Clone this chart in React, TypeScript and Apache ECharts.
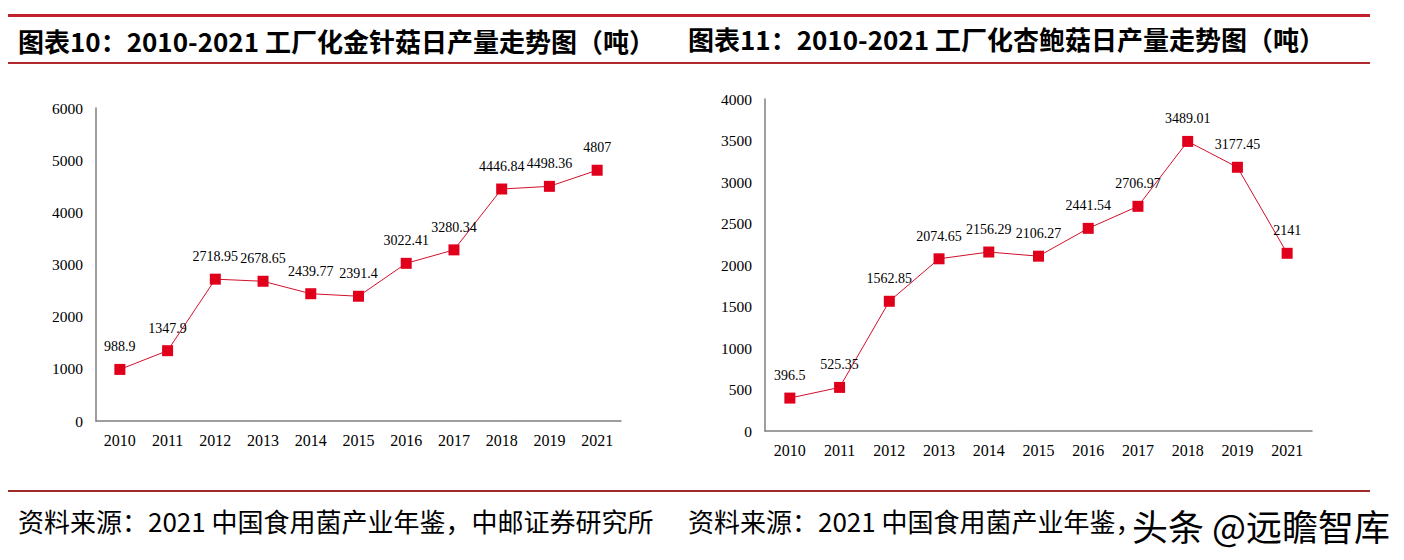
import React, { useEffect, useRef } from "react";
import * as echarts from "echarts";

const years = ["2010", "2011", "2012", "2013", "2014", "2015", "2016", "2017", "2018", "2019", "2021"];
const enokiValues = [988.9, 1347.9, 2718.95, 2678.65, 2439.77, 2391.4, 3022.41, 3280.34, 4446.84, 4498.36, 4807];
const kingOysterValues = [396.5, 525.35, 1562.85, 2074.65, 2156.29, 2106.27, 2441.54, 2706.97, 3489.01, 3177.45, 2141];
const leftTitle = "图表10：2010-2021 工厂化金针菇日产量走势图（吨）";
const rightTitle = "图表11：2010-2021 工厂化杏鲍菇日产量走势图（吨）";
const sourceText = "资料来源：2021 中国食用菌产业年鉴，中邮证券研究所";
const sourceTextCovered = "资料来源：2021 中国食用菌产业年鉴，";
const watermark = "头条 @远瞻智库";

const serif = "'Liberation Serif', 'Times New Roman', serif";
const cjk = "'Noto Sans CJK SC', sans-serif";

function makeXAxis(gridIndex: number) {
  return {
    type: "category",
    gridIndex,
    data: years,
    boundaryGap: true,
    axisLine: { show: true, lineStyle: { color: "#7f7f7f", width: 1.5 } },
    axisTick: { show: false },
    axisLabel: { color: "#000", fontFamily: serif, fontSize: 16, margin: 11 },
    splitLine: { show: false },
  };
}

function makeYAxis(gridIndex: number, max: number, interval: number) {
  return {
    type: "value",
    gridIndex,
    min: 0,
    max,
    interval,
    axisLine: { show: true, lineStyle: { color: "#7f7f7f", width: 1.5 } },
    axisTick: { show: false },
    axisLabel: {
      color: "#000",
      fontFamily: serif,
      fontSize: 15.5,
      margin: 13,
      formatter: (v: number) => String(v),
    },
    splitLine: { show: false },
  };
}

function makeSeries(idx: number, data: number[]) {
  return {
    type: "line",
    xAxisIndex: idx,
    yAxisIndex: idx,
    data,
    symbol: "rect",
    symbolSize: 11,
    itemStyle: { color: "#E0001B" },
    lineStyle: { color: "#D0102A", width: 1 },
    label: {
      show: true,
      position: "top",
      distance: 10,
      color: "#000",
      fontFamily: serif,
      fontSize: 14,
      formatter: (p: any) => String(p.value),
    },
  };
}

export default function App() {
  const ref = useRef<HTMLDivElement>(null);
  useEffect(() => {
    if (!ref.current) return;
    const chart = echarts.init(ref.current, null, { renderer: "svg" });
    chart.setOption({
      animation: false,
      backgroundColor: "#fff",
      grid: [
        { left: 96, top: 108, width: 525, height: 313 },
        { left: 765, top: 99, width: 547, height: 332 },
      ],
      xAxis: [makeXAxis(0), makeXAxis(1)],
      yAxis: [makeYAxis(0, 6000, 1000), makeYAxis(1, 4000, 500)],
      series: [makeSeries(0, enokiValues), makeSeries(1, kingOysterValues)],
      graphic: [
        { type: "rect", shape: { x: 8, y: 14, width: 1362, height: 3 }, style: { fill: "#C0212B" } },
        { type: "rect", shape: { x: 8, y: 62, width: 1362, height: 2 }, style: { fill: "#B0282E" } },
        { type: "rect", shape: { x: 8, y: 490, width: 1362, height: 2 }, style: { fill: "#9E2A2A" } },
        {
          type: "text",
          x: 18,
          y: 40,
          style: { text: leftTitle, fill: "#000", font: `bold 26px ${cjk}`, textVerticalAlign: "middle" },
        },
        {
          type: "text",
          x: 688,
          y: 38,
          style: { text: rightTitle, fill: "#000", font: `bold 26px ${cjk}`, textVerticalAlign: "middle" },
        },
        {
          type: "text",
          x: 18,
          y: 520,
          style: { text: sourceText, fill: "#000", font: `26px ${cjk}`, textVerticalAlign: "middle" },
        },
        {
          type: "text",
          x: 688,
          y: 520,
          style: { text: sourceTextCovered, fill: "#000", font: `26px ${cjk}`, textVerticalAlign: "middle" },
        },
        {
          type: "text",
          x: 1132,
          y: 525,
          z: 10,
          style: {
            text: watermark,
            fill: "#000",
            stroke: "#fff",
            lineWidth: 2,
            font: `36px ${cjk}`,
            textVerticalAlign: "middle",
          },
        },
      ],
    });
    return () => chart.dispose();
  }, []);
  return (
    <div
      ref={ref}
      style={{ position: "fixed", left: 0, top: 0, width: 1404, height: 560, background: "#fff" }}
    />
  );
}
